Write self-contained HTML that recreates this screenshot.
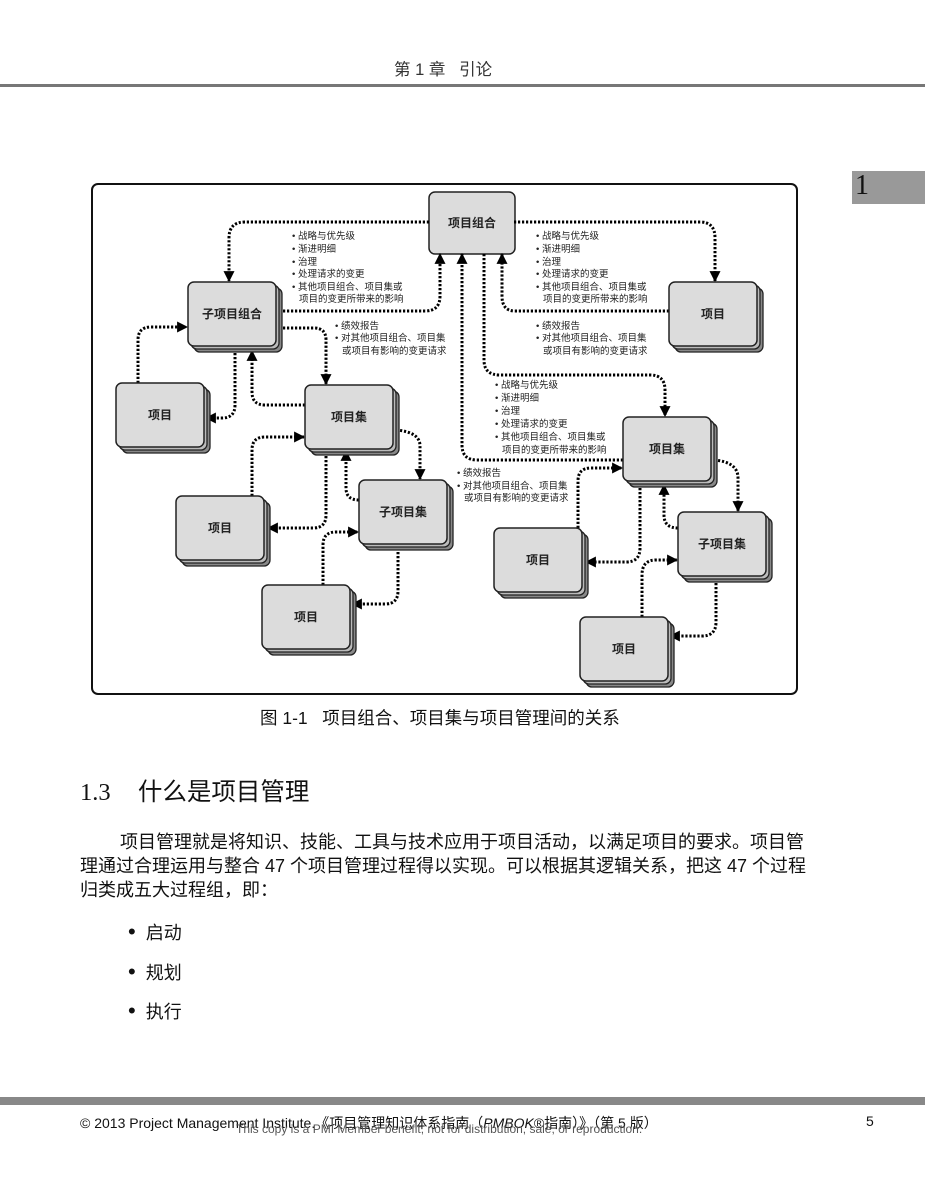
<!DOCTYPE html>
<html><head><meta charset="utf-8">
<style>
html,body{margin:0;padding:0;background:#fff;}
body{width:950px;height:1198px;position:relative;overflow:hidden;font-family:"Liberation Sans","Noto Sans CJK SC",sans-serif;color:#111;}
.a{position:absolute;white-space:nowrap;}
</style></head><body>
<div class="a" style="left:394px;top:56px;font-size:16.5px;color:#333;">第 1 章&nbsp;&nbsp;&nbsp;引论</div>
<div class="a" style="left:0;top:84px;width:925px;height:3px;background:#777;"></div>
<div class="a" style="left:852px;top:171px;width:73px;height:33px;background:#999;"></div>
<div class="a" style="left:855px;top:170px;font-family:'Liberation Serif',serif;font-size:28px;color:#111;">1</div>

<svg class="a" style="left:0;top:0" width="950" height="720" viewBox="0 0 950 720" font-family="Liberation Sans, Noto Sans CJK SC, sans-serif">
<defs>
<marker id="m" viewBox="0 0 10 10" refX="9" refY="5" markerWidth="11" markerHeight="11" markerUnits="userSpaceOnUse" orient="auto"><path d="M0,0 L10,5 L0,10 z" fill="#000"/></marker>
<g id="stk"><rect x="6" y="6" width="88" height="64" rx="6" fill="#888" stroke="#222" stroke-width="1.3"/><rect x="3" y="3" width="88" height="64" rx="6" fill="#bbb" stroke="#222" stroke-width="1.3"/><rect x="0" y="0" width="88" height="64" rx="6" fill="#dcdcdc" stroke="#222" stroke-width="1.5"/></g>
</defs>
<rect x="92" y="184" width="705" height="510" rx="6" fill="#fff" stroke="#111" stroke-width="2"/>
<rect x="429" y="192" width="86" height="62" rx="6" fill="#dcdcdc" stroke="#222" stroke-width="1.5"/>
<g fill="none" stroke="#000" stroke-width="3" stroke-dasharray="2.2 1.8" marker-end="url(#m)">
<path d="M429 222 H245 Q229 222 229 238 V281"/>
<path d="M283 311 H425 Q440 311 440 296 V254"/>
<path d="M283 328 H314 Q326 328 326 340 V384"/>
<path d="M138 383 V340 Q138 327 151 327 H187"/>
<path d="M235 349 V405 Q235 418 222 418 H206"/>
<path d="M305 405 H265 Q252 405 252 392 V351"/>
<path d="M514 222 H700 Q715 222 715 238 V281"/>
<path d="M669 311 H515 Q502 311 502 296 V254"/>
<path d="M484 254 V360 Q484 375 500 375 H650 Q665 375 665 390 V416"/>
<path d="M623 460 H477 Q462 460 462 445 V254"/>
<path d="M396 430 Q420 432 420 446 V479"/>
<path d="M252 496 V450 Q252 437 265 437 H304"/>
<path d="M326 452 V515 Q326 528 313 528 H268"/>
<path d="M359 500 Q346 500 346 488 V451"/>
<path d="M323 585 V545 Q323 532 336 532 H358"/>
<path d="M398 548 V591 Q398 604 385 604 H352"/>
<path d="M578 528 V481 Q578 468 591 468 H622"/>
<path d="M640 484 V548 Q640 562 626 562 H586"/>
<path d="M714 460 Q738 462 738 478 V511"/>
<path d="M678 528 Q664 528 664 515 V485"/>
<path d="M642 617 V575 Q642 560 656 560 H677"/>
<path d="M716 579 V622 Q716 636 702 636 H670"/>
</g>
<use href="#stk" x="188" y="282"/>
<use href="#stk" x="669" y="282"/>
<use href="#stk" x="116" y="383"/>
<use href="#stk" x="305" y="385"/>
<use href="#stk" x="176" y="496"/>
<use href="#stk" x="359" y="480"/>
<use href="#stk" x="262" y="585"/>
<use href="#stk" x="623" y="417"/>
<use href="#stk" x="494" y="528"/>
<use href="#stk" x="678" y="512"/>
<use href="#stk" x="580" y="617"/>
<g font-size="12" font-weight="bold" fill="#222" text-anchor="middle">
<text x="472" y="227">项目组合</text>
<text x="232" y="318">子项目组合</text>
<text x="713" y="318">项目</text>
<text x="160" y="419">项目</text>
<text x="349" y="421">项目集</text>
<text x="220" y="532">项目</text>
<text x="403" y="516">子项目集</text>
<text x="306" y="621">项目</text>
<text x="667" y="453">项目集</text>
<text x="538" y="564">项目</text>
<text x="722" y="548">子项目集</text>
<text x="624" y="653">项目</text>
</g>
<g font-size="9.5" fill="#222">
<text x="292" y="239">• 战略与优先级</text><text x="292" y="252">• 渐进明细</text><text x="292" y="265">• 治理</text><text x="292" y="277">• 处理请求的变更</text><text x="292" y="290">• 其他项目组合、项目集或</text><text x="299" y="302">项目的变更所带来的影响</text>
<text x="335" y="329">• 绩效报告</text><text x="335" y="341">• 对其他项目组合、项目集</text><text x="342" y="354">或项目有影响的变更请求</text>
<text x="536" y="239">• 战略与优先级</text><text x="536" y="252">• 渐进明细</text><text x="536" y="265">• 治理</text><text x="536" y="277">• 处理请求的变更</text><text x="536" y="290">• 其他项目组合、项目集或</text><text x="543" y="302">项目的变更所带来的影响</text>
<text x="536" y="329">• 绩效报告</text><text x="536" y="341">• 对其他项目组合、项目集</text><text x="543" y="354">或项目有影响的变更请求</text>
<text x="495" y="388">• 战略与优先级</text><text x="495" y="401">• 渐进明细</text><text x="495" y="414">• 治理</text><text x="495" y="427">• 处理请求的变更</text><text x="495" y="440">• 其他项目组合、项目集或</text><text x="502" y="453">项目的变更所带来的影响</text>
<text x="457" y="476">• 绩效报告</text><text x="457" y="489">• 对其他项目组合、项目集</text><text x="464" y="501">或项目有影响的变更请求</text>
</g>
</svg>

<div class="a" style="left:260px;top:705px;font-size:17.5px;">图 1-1&nbsp;&nbsp;&nbsp;项目组合、项目集与项目管理间的关系</div>
<div class="a" style="left:80px;top:773px;font-size:24.5px;"><span style="font-family:'Liberation Serif',serif;">1.3</span>&nbsp;&nbsp;&nbsp;&nbsp;什么是项目管理</div>
<div class="a" style="left:80px;top:830px;font-size:18px;line-height:24px;">&nbsp;&nbsp;&nbsp;&nbsp;&nbsp;&nbsp;&nbsp;&nbsp;项目管理就是将知识、技能、工具与技术应用于项目活动，以满足项目的要求。项目管<br>理通过合理运用与整合 47 个项目管理过程得以实现。可以根据其逻辑关系，把这 47 个过程<br>归类成五大过程组，即：</div>
<div class="a" style="left:128px;top:919px;font-size:18px;"><span style="font-size:22px;line-height:18px;">•</span>&nbsp;&nbsp;启动</div>
<div class="a" style="left:128px;top:959px;font-size:18px;"><span style="font-size:22px;line-height:18px;">•</span>&nbsp;&nbsp;规划</div>
<div class="a" style="left:128px;top:998px;font-size:18px;"><span style="font-size:22px;line-height:18px;">•</span>&nbsp;&nbsp;执行</div>

<div class="a" style="left:0;top:1097px;width:925px;height:8px;background:#888;"></div>
<div class="a" style="left:80px;top:1113px;font-size:14px;">© 2013 Project Management Institute.《项目管理知识体系指南（<i>PMBOK</i>®指南）》（第 5 版）</div>
<div class="a" style="left:236px;top:1122px;font-size:12px;color:#555;">This copy is a PMI Member benefit, not for distribution, sale, or reproduction.</div>
<div class="a" style="left:866px;top:1113px;font-size:14px;">5</div>
</body></html>
